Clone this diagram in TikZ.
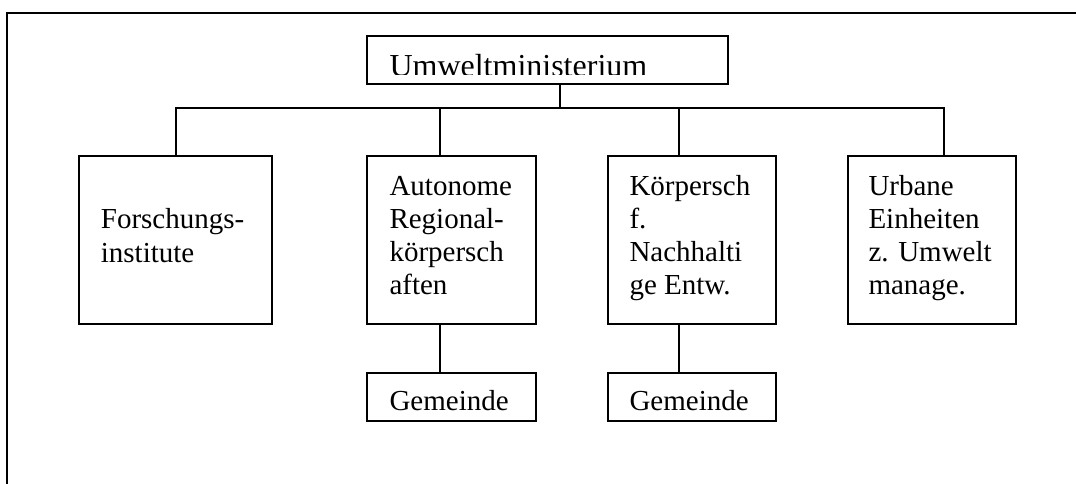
\documentclass[tikz,border=0pt]{standalone}
\usepackage{fontspec}
\setmainfont{Liberation Serif}
\begin{document}
\begin{tikzpicture}[x=1pt,y=-1pt,
  box/.style={draw=black, line width=1.8pt, rectangle, inner sep=0pt},
  conn/.style={draw=black, line width=1.8pt},
  lbl/.style={anchor=base west, inner sep=0pt, font=\fontsize{29}{33.3}\selectfont},
]
\useasboundingbox (0,0) rectangle (1076,484);
% frame
\draw[line width=1.8pt] (7.3,484) -- (7.3,12.7) -- (1076,12.7);
% boxes
\node[box, minimum width=361pt, minimum height=48.3pt] (top) at (547.8,60.15) {};
\node[box, minimum width=192.7pt, minimum height=168.3pt] (b1) at (175.65,240.15) {};
\node[box, minimum width=168.4pt, minimum height=168.3pt] (b2) at (451.5,240.15) {};
\node[box, minimum width=168pt, minimum height=168.3pt] (b3) at (691.7,240.15) {};
\node[box, minimum width=168.3pt, minimum height=168.3pt] (b4) at (931.85,240.15) {};
\node[box, minimum width=168.4pt, minimum height=48.3pt] (g1) at (451.5,396.85) {};
\node[box, minimum width=168pt, minimum height=48.3pt] (g2) at (691.7,396.85) {};
% texts
\begin{scope}
\clip (368,37) rectangle (727.5,74.6);
\node[anchor=base west, inner sep=0pt, font=\fontsize{32}{36}\selectfont] (ttop) at (389.3,76.8) {Umweltministerium};
\end{scope}
\node[lbl] (t1) at (100.7,228.7) {\parbox[t]{160pt}{\raggedright Forschungs-\\institute}};
\node[lbl] (t2) at (389.3,195) {\parbox[t]{140pt}{\raggedright Autonome\\Regional-\\körpersch\\aften}};
\node[lbl] (t3) at (629.3,195) {\parbox[t]{140pt}{\raggedright Körpersch\\f.\\Nachhalti\\ge Entw.}};
\node[lbl] (t4) at (868.3,195) {\parbox[t]{140pt}{\raggedright Urbane\\Einheiten\\z. Umwelt\\manage.}};
\node[lbl] (tg1) at (389.3,410) {Gemeinde};
\node[lbl] (tg2) at (629.3,410) {Gemeinde};
% connectors
\coordinate (k0) at (559.7,108.3);
\coordinate (k1) at (175.7,108.3);
\coordinate (k2) at (439.7,108.3);
\coordinate (k3) at (679.3,108.3);
\coordinate (k4) at (943.7,108.3);
\draw[conn, line cap=rect] (k1) -- (k4);
\draw[conn] (top.south -| k0) -- (k0);
\draw[conn] (k1) -- (k1 |- b1.north);
\draw[conn] (k2) -- (k2 |- b2.north);
\draw[conn] (k3) -- (k3 |- b3.north);
\draw[conn] (k4) -- (k4 |- b4.north);
\draw[conn] (b2.south -| k2) -- (g1.north -| k2);
\draw[conn] (b3.south -| k3) -- (g2.north -| k3);
\end{tikzpicture}
\end{document}
